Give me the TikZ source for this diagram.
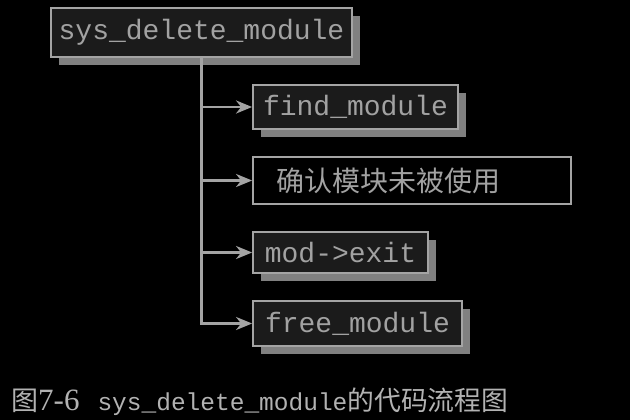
\documentclass[tikz,border=0pt]{standalone}
\usepackage{fontspec}
\setmonofont{Liberation Mono}
\newfontfamily\cjk{Noto Sans CJK SC}
\newfontfamily\serifnum{Liberation Serif}
\usetikzlibrary{arrows.meta,shadows}
\definecolor{boxfill}{HTML}{1B1B1B}
\definecolor{edge}{HTML}{A4A4A4}
\definecolor{shade}{HTML}{808080}
\definecolor{txt}{HTML}{A2A2A2}
\definecolor{captxt}{HTML}{B2B2B2}
\tikzset{
  codebox/.style={draw=edge, line width=1.8pt, fill=boxfill, text=txt,
    font=\ttfamily\fontsize{28}{28}\selectfont, inner sep=0pt,
    general shadow={fill=shade, shadow xshift=8pt, shadow yshift=-8pt}},
  plainbox/.style={draw=edge, line width=1.8pt, fill=black, text=txt,
    font=\cjk\fontsize{28}{28}\selectfont, inner ysep=0pt, inner xsep=23pt, align=left},
  link/.style={draw=edge, line width=2.6pt},
  arrowlink/.style={link, -{Stealth[length=16pt,width=13pt,inset=5pt]}}
}
\begin{document}
\begin{tikzpicture}[x=1pt,y=-1pt]
\fill[black] (0,0) rectangle (630,420);
\useasboundingbox (0,0) rectangle (630,420);
\node[codebox, minimum width=301pt, minimum height=49pt] (main) at (201.5,32.5) {sys\_delete\_module};
\node[codebox, minimum width=205pt, minimum height=44pt] (find) at (355.5,107) {find\_module};
\node[plainbox, text width=272pt, minimum height=47pt] (check) at (412,180.5) {确认模块未被使用};
\node[codebox, minimum width=175pt, minimum height=41pt] (exit) at (340.5,252.5) {mod->exit};
\node[codebox, minimum width=209pt, minimum height=45pt] (free) at (357.5,323.5) {free\_module};
\coordinate (t1) at (main.south |- find.west);
\coordinate (t2) at (main.south |- check.west);
\coordinate (t3) at (main.south |- exit.west);
\draw[arrowlink] (main.south) |- (free.west);
\draw[arrowlink] (t1) -- (find.west);
\draw[arrowlink] (t2) -- (check.west);
\draw[arrowlink] (t3) -- (exit.west);
\node[anchor=base west, inner sep=0pt, text=captxt] (cap) at (11,410)
  {{\cjk\fontsize{27}{27}\selectfont 图}{\serifnum\fontsize{31}{31}\selectfont 7-6}\hspace{18pt}{\ttfamily\fontsize{24.5}{24.5}\selectfont sys\_delete\_module}{\cjk\fontsize{26.8}{27}\selectfont 的代码流程图}};
\end{tikzpicture}
\end{document}
